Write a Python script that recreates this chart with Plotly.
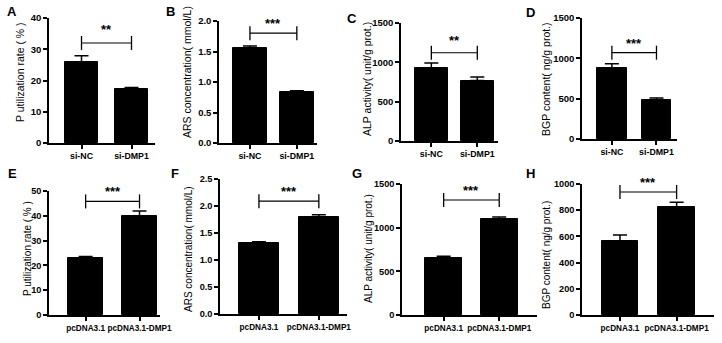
import plotly.graph_objects as go

# ---------------- data ----------------
groups_si = ["si-NC", "si-DMP1"]
groups_pc = ["pcDNA3.1", "pcDNA3.1-DMP1"]

p_util_si = [25.8, 17.2]
p_util_si_err = [2.1, 0.6]
ars_si = [1.56, 0.83]
ars_si_err = [0.03, 0.025]
alp_si = [926, 769]
alp_si_err = [64, 43]
bgp_si = [880, 488]
bgp_si_err = [54, 20]

p_util_pc = [23.1, 39.9]
p_util_pc_err = [0.5, 2.0]
ars_pc = [1.31, 1.80]
ars_pc_err = [0.03, 0.04]
alp_pc = [649, 1095]
alp_pc_err = [23, 27]
bgp_pc = [567, 822]
bgp_pc_err = [44, 38]

panel_letters = ["A", "B", "C", "D", "E", "F", "G", "H"]
y_titles = ["P utilization rate ( % )", "ARS concentration( mmol/L)",
            "ALP activity( unit/g prot.)", "BGP content( ng/g prot.)",
            "P utilization rate ( % )", "ARS concentration( mmol/L)",
            "ALP activity( unit/g prot.)", "BGP content( ng/g prot.)"]
y_max = [40, 2.0, 1500, 1500, 50, 2.5, 1500, 1000]
y_dtick = [10, 0.5, 500, 500, 10, 0.5, 500, 200]
y_tickformat = ["d", ".1f", "d", "d", "d", ".1f", "d", "d"]
sig_labels = ["**", "***", "**", "***", "***", "***", "***", "***"]
sig_y = [32.0, 1.80, 1122, 1070, 45.8, 2.09, 1317, 939]

values = [p_util_si, ars_si, alp_si, bgp_si, p_util_pc, ars_pc, alp_pc, bgp_pc]
errors = [p_util_si_err, ars_si_err, alp_si_err, bgp_si_err,
          p_util_pc_err, ars_pc_err, alp_pc_err, bgp_pc_err]
groups = [groups_si] * 4 + [groups_pc] * 4

# ---------------- layout geometry (pixels) ----------------
W, H = 722, 343
px_x = [(49, 155), (219, 317), (401, 498), (582, 677),
        (49, 160), (220, 347), (402, 537), (582, 714)]
px_y = [(18, 143), (21, 143), (23, 141), (18, 139),
        (191, 315), (179, 314), (184, 315), (184, 315)]
x_ranges = [(-0.65, 1.47), (-0.66, 1.43), (-0.66, 1.45), (-0.67, 1.46),
            (-0.68, 1.38), (-0.65, 1.47), (-0.75, 1.68), (-0.67, 1.66)]
bar_w = [0.66, 0.72, 0.72, 0.67, 0.65, 0.67, 0.67, 0.64]
title_pos = [(20, 72), (187, 72), (367, 79), (546, 79),
             (27, 248), (188, 249), (368, 249), (546, 255)]
letter_pos = [(12, 12), (170, 12), (352, 19), (530, 13),
              (12, 173), (175, 173), (357, 173), (530, 173)]
star_shift = [4, 0, 3, 0, 0, 0, 0, 0]

FONT = "Arial, Liberation Sans, sans-serif"

fig = go.Figure()
annotations = []

for i in range(8):
    n = "" if i == 0 else str(i + 1)
    xa, ya = "x" + n, "y" + n
    fig.add_trace(go.Bar(
        x=[0, 1], y=values[i], width=bar_w[i],
        marker=dict(color="black", line=dict(color="black", width=1)),
        error_y=dict(type="data", array=errors[i], arrayminus=[0, 0],
                     symmetric=False, color="black", thickness=1.5, width=7),
        xaxis=xa, yaxis=ya, showlegend=False, hoverinfo="skip"))
    # significance bracket
    fig.add_trace(go.Scatter(
        x=[0, 1], y=[sig_y[i], sig_y[i]], mode="lines+markers",
        line=dict(color="black", width=1.2),
        marker=dict(symbol="line-ns", size=10,
                    line=dict(color="black", width=1.3)),
        xaxis=xa, yaxis=ya, showlegend=False, hoverinfo="skip"))
    annotations.append(dict(
        x=0.5, y=sig_y[i], xref=xa, yref=ya, text="<b>" + sig_labels[i] + "</b>",
        showarrow=False, yanchor="bottom", yshift=star_shift[i],
        font=dict(family=FONT, size=13, color="black")))

    x0, x1 = px_x[i]
    yt, yb = px_y[i]
    xt_size = 8.8 if i < 4 else 8.2
    yt_size = 9.5 if i < 4 else 9.2
    fig.update_layout(**{
        "xaxis" + n: dict(
            domain=[x0 / W, x1 / W], range=list(x_ranges[i]),
            tickvals=[0, 1], ticktext=["<b>" + g + "</b>" for g in groups[i]],
            tickangle=0, automargin=False,
            ticks="outside", ticklen=4, tickwidth=1.5, tickcolor="black",
            showline=True, linecolor="black", linewidth=1.5,
            showgrid=False, zeroline=False, anchor=ya,
            tickfont=dict(family=FONT, size=xt_size, color="black"),
            fixedrange=True),
        "yaxis" + n: dict(
            domain=[1 - yb / H, 1 - yt / H], range=[0, y_max[i]],
            dtick=y_dtick[i], tick0=0, tickformat=y_tickformat[i],
            automargin=False,
            ticks="outside", ticklen=4, tickwidth=1.5, tickcolor="black",
            showline=True, linecolor="black", linewidth=1.5,
            showgrid=False, zeroline=False, anchor=xa,
            tickfont=dict(family=FONT, size=yt_size, color="black", weight="bold"),
            fixedrange=True),
    })
    tx, ty = title_pos[i]
    annotations.append(dict(
        x=tx / W, y=1 - ty / H, xref="paper", yref="paper",
        text=y_titles[i], textangle=-90, showarrow=False,
        xanchor="center", yanchor="middle",
        font=dict(family=FONT, size=10.5 if i < 4 else 10, color="black")))
    lx, ly = letter_pos[i]
    annotations.append(dict(
        x=lx / W, y=1 - ly / H, xref="paper", yref="paper",
        text="<b>" + panel_letters[i] + "</b>", showarrow=False,
        xanchor="center", yanchor="middle",
        font=dict(family=FONT, size=13, color="black")))

fig.update_layout(
    width=W, height=H, margin=dict(l=0, r=0, t=0, b=0, autoexpand=False),
    paper_bgcolor="white", plot_bgcolor="white",
    annotations=annotations, bargap=0,
    font=dict(family=FONT, color="black"))

fig.write_html("out.html")
